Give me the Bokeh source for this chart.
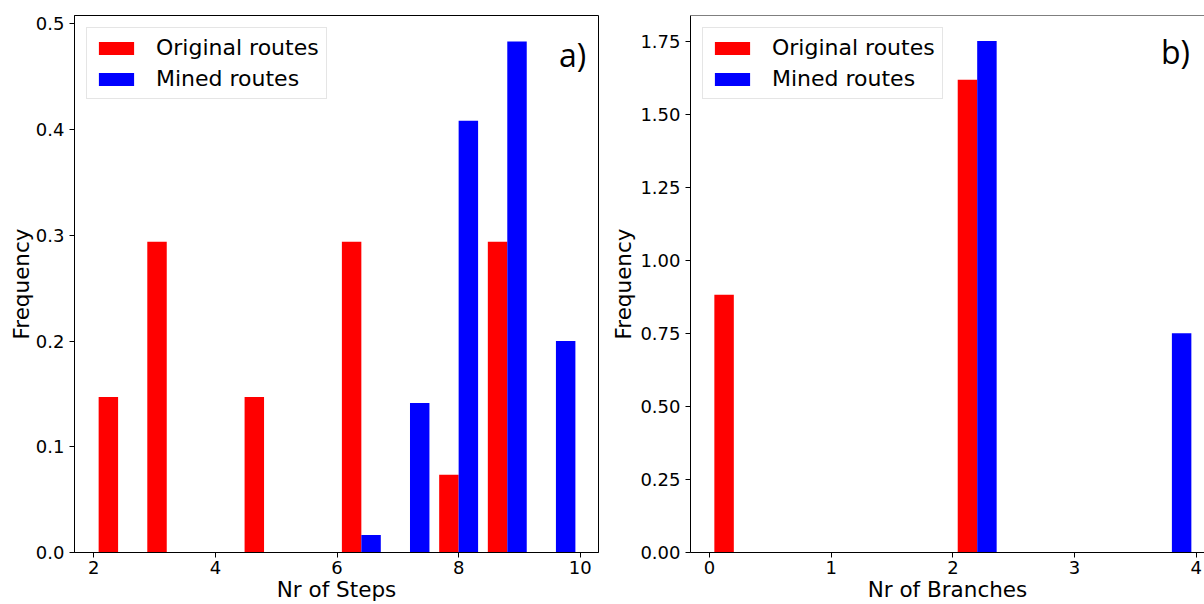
from bokeh.plotting import figure
from bokeh.models import ColumnDataSource, Range1d, FixedTicker, PrintfTickFormatter, Label, Span
from bokeh.layouts import row
from bokeh.embed import file_html
from bokeh.resources import INLINE

# ---------------- data ----------------
steps_bin_left = [2.0, 2.8, 3.6, 4.4, 5.2, 6.0, 6.8, 7.6, 8.4, 9.2]
steps_bin_width = 0.8
steps_original = [0.147, 0.294, 0.0, 0.147, 0.0, 0.294, 0.0, 0.0735, 0.294, 0.0]
steps_mined = [0.0, 0.0, 0.0, 0.0, 0.0, 0.0165, 0.1415, 0.4085, 0.4835, 0.2]

branches_bin_left = [0.0, 0.4, 0.8, 1.2, 1.6, 2.0, 2.4, 2.8, 3.2, 3.6]
branches_bin_width = 0.4
branches_original = [0.882, 0.0, 0.0, 0.0, 0.0, 1.618, 0.0, 0.0, 0.0, 0.0]
branches_mined = [0.0, 0.0, 0.0, 0.0, 0.0, 1.75, 0.0, 0.0, 0.0, 0.75]

series_labels = ["Original routes", "Mined routes"]
series_colors = ["#ff0000", "#0000ff"]

steps_xticks = [2, 4, 6, 8, 10]
steps_yticks = [0.0, 0.1, 0.2, 0.3, 0.4, 0.5]
branches_xticks = [0, 1, 2, 3, 4]
branches_yticks = [0.0, 0.25, 0.5, 0.75, 1.0, 1.25, 1.5, 1.75]

FONT = "DejaVu Sans"
TICK_FS = "18px"
LABEL_FS = "21.5px"
LEGEND_FS = "22px"
H = 604


def hist_panel(bin_left, bin_w, series, xr, yr, xticks, yticks, yfmt, xlabel,
               panel_tag, width, left_border, right_border, label_standoff,
               tag_pos, full_outline):
    p = figure(width=width, height=H, x_range=Range1d(*xr), y_range=Range1d(*yr),
               output_backend="svg", toolbar_location=None,
               min_border_left=left_border, min_border_right=right_border,
               min_border_top=15, min_border_bottom=H - 553)
    p.grid.visible = False
    p.background_fill_color = "white"
    p.border_fill_color = "white"
    if full_outline:
        p.outline_line_color = "black"
        p.outline_line_width = 1
    else:
        p.outline_line_color = None
        p.add_layout(Span(location=yr[1], dimension="width", line_color="black", line_width=1))

    n = len(series)
    for k, (vals, lab, col) in enumerate(zip(series, series_labels, series_colors)):
        left = [b + bin_w * (0.1 + 0.8 * k / n) for b in bin_left]
        right = [b + bin_w * (0.1 + 0.8 * (k + 1) / n) for b in bin_left]
        src = ColumnDataSource(dict(left=left, right=right, top=vals, bottom=[0.0] * len(vals)))
        p.quad(left="left", right="right", top="top", bottom="bottom", source=src,
               fill_color=col, line_color=None, legend_label=lab)

    for ax in (p.xaxis[0], p.yaxis[0]):
        ax.axis_line_color = "black"
        ax.axis_line_width = 1
        ax.major_tick_line_color = "black"
        ax.major_tick_out = 5
        ax.major_tick_in = 0
        ax.minor_tick_line_color = None
        ax.major_label_text_font = FONT
        ax.major_label_text_font_size = TICK_FS
        ax.major_label_text_color = "black"
        ax.axis_label_text_font = FONT
        ax.axis_label_text_font_size = LABEL_FS
        ax.axis_label_text_font_style = "normal"
        ax.axis_label_text_color = "black"

    p.xaxis.ticker = FixedTicker(ticks=xticks)
    p.yaxis.ticker = FixedTicker(ticks=yticks)
    p.yaxis.formatter = PrintfTickFormatter(format=yfmt)
    p.xaxis.major_label_standoff = 3
    p.yaxis.major_label_standoff = 5
    p.yaxis.axis_label = "Frequency"
    p.yaxis.axis_label_standoff = label_standoff
    p.xaxis.axis_label = xlabel
    p.xaxis.axis_label_standoff = 0

    # panel tag
    p.add_layout(Label(x=tag_pos[0], y=tag_pos[1], x_units="screen", y_units="screen",
                       text=panel_tag, text_font="Open Sans", text_font_size="32px",
                       text_color="black", text_align="center", text_baseline="alphabetic"))

    lg = p.legend[0]
    lg.location = "top_left"
    lg.margin = 12
    lg.padding = 7
    lg.spacing = 6
    lg.glyph_width = 44
    lg.glyph_height = 16
    lg.label_standoff = 18
    lg.label_text_font = FONT
    lg.label_text_font_size = LEGEND_FS
    lg.label_text_color = "black"
    lg.border_line_color = "#cccccc"
    lg.border_line_width = 1
    lg.background_fill_color = "white"
    lg.background_fill_alpha = 0.8
    return p


pa = hist_panel(steps_bin_left, steps_bin_width, [steps_original, steps_mined],
                (1.683, 10.30), (0.0, 0.508), steps_xticks, steps_yticks, "%.1f",
                "Nr of Steps", "a)", 607, 74, 9, -1, (498, 498), True)

pb = hist_panel(branches_bin_left, branches_bin_width, [branches_original, branches_mined],
                (-0.156, 4.068), (0.0, 1.8375), branches_xticks, branches_yticks, "%.2f",
                "Nr of Branches", "b)", 597, 83, 0, 1, (485, 501), False)

layout = row(pa, pb)
open("out.html", "w").write(file_html(layout, INLINE))
